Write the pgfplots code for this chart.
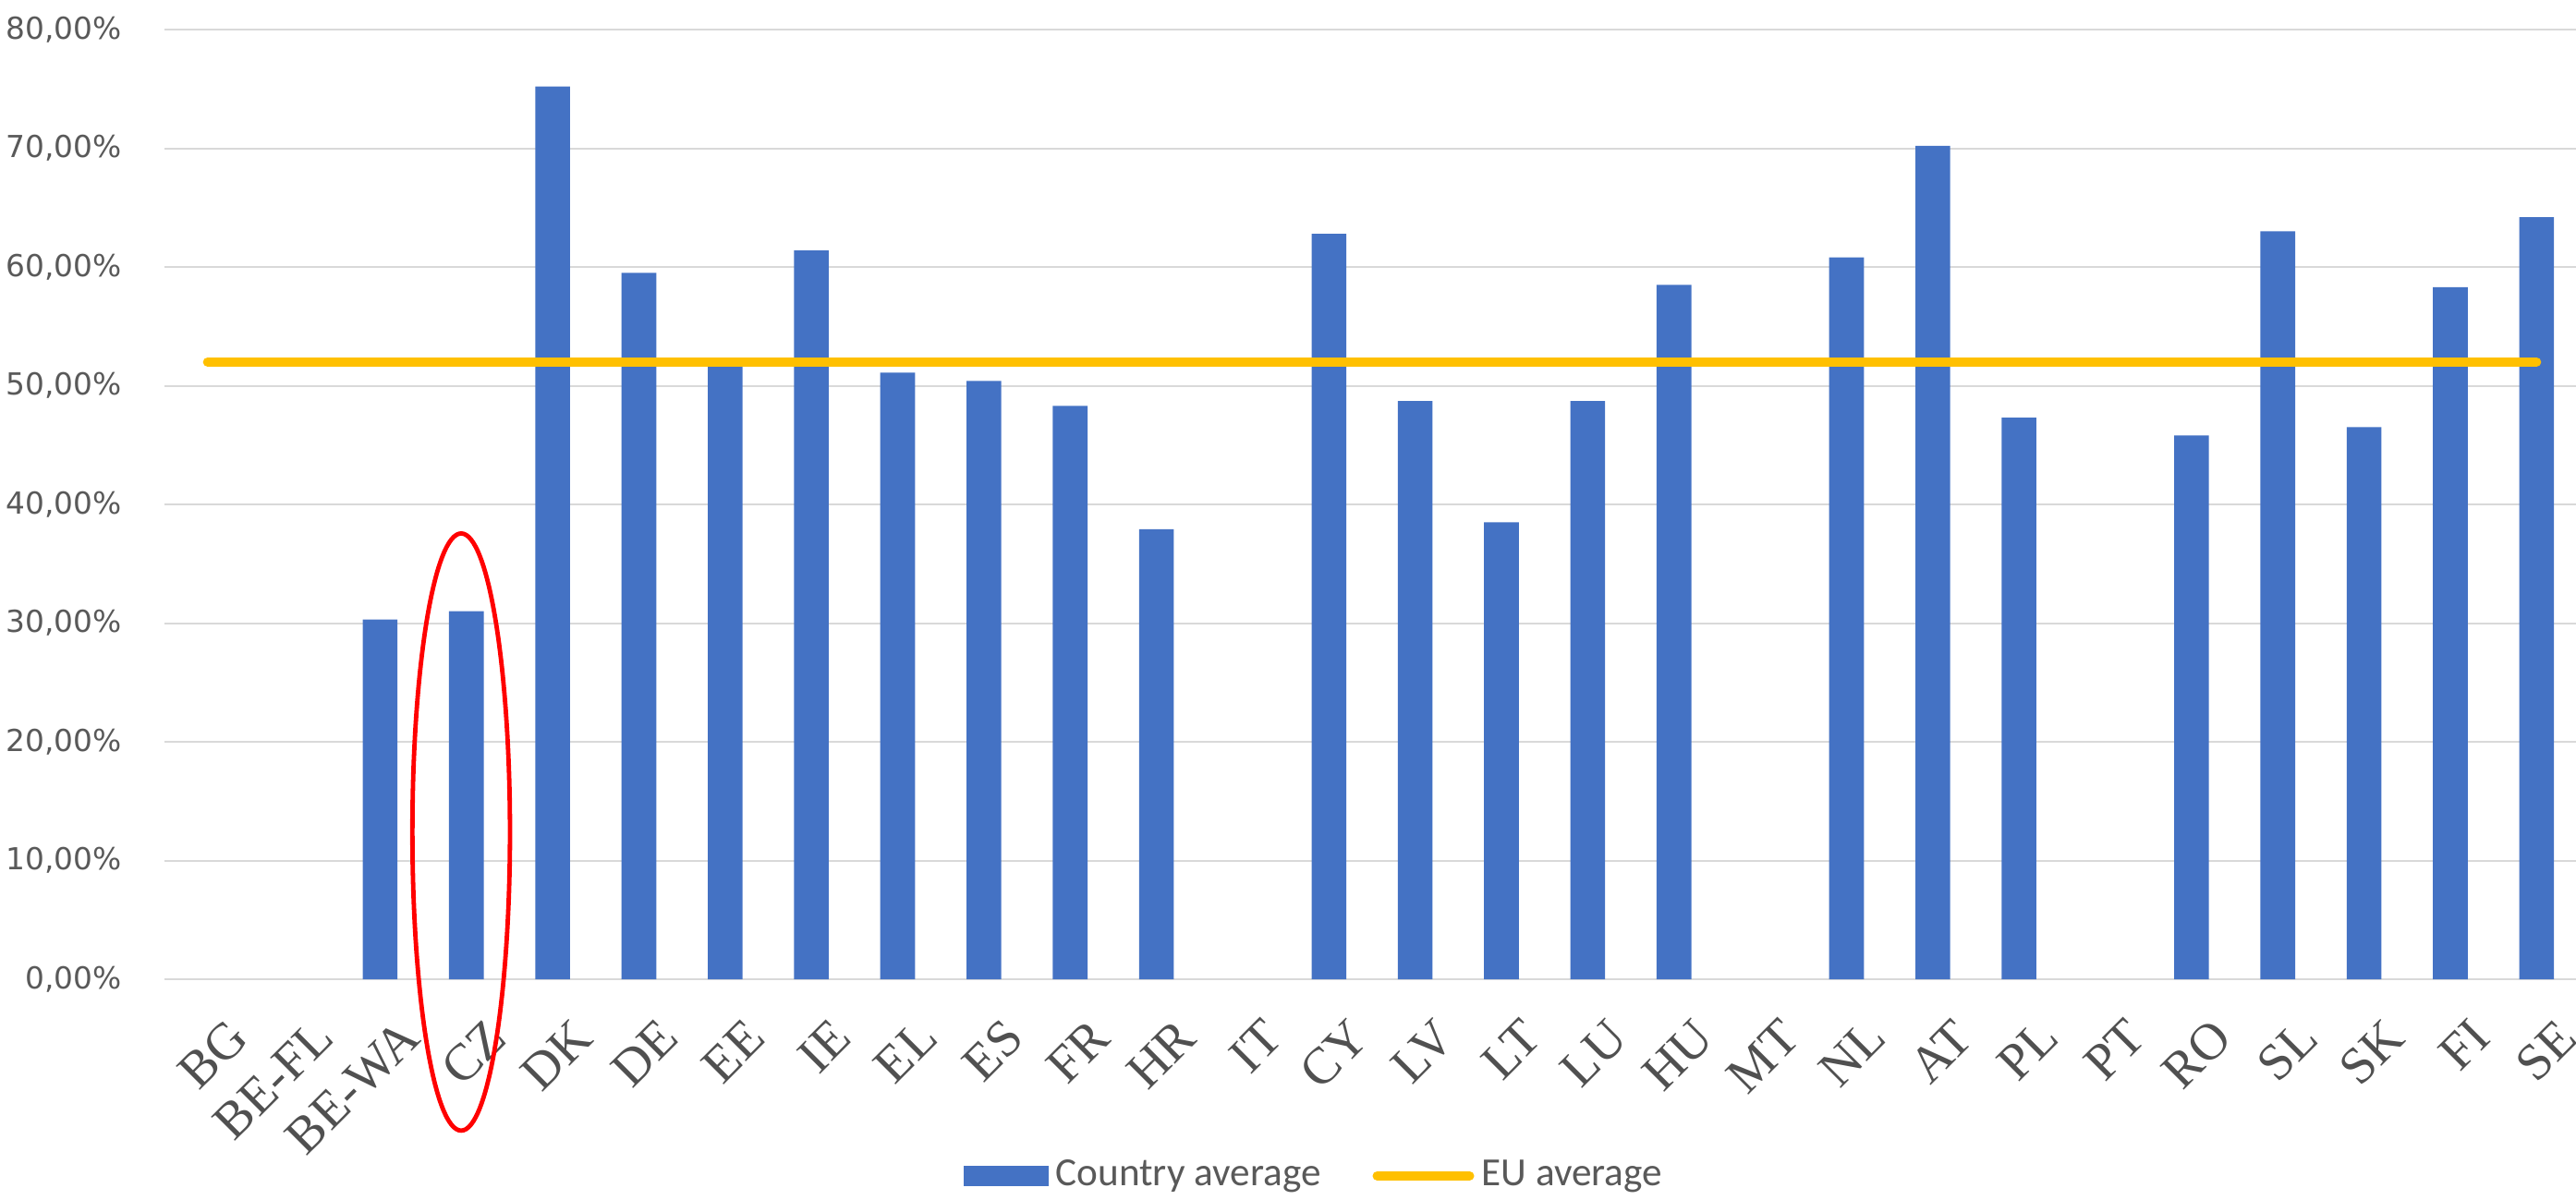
\documentclass[border=0pt]{standalone}
\usepackage{fontspec}
\setmainfont{Liberation Serif}
\newfontfamily\ytickfont{DejaVu Sans}
\newfontfamily\legfont{Carlito}
\usepackage{pgfplots}
\pgfplotsset{compat=1.18}
\definecolor{barblue}{HTML}{4472C4}
\definecolor{eugold}{HTML}{FFC000}
\definecolor{gridgray}{HTML}{D9D9D9}
\definecolor{txtgray}{HTML}{595959}
\begin{document}
\begin{tikzpicture}
\begin{axis}[
  at={(0,0)}, anchor=south west,
  scale only axis, width=653.5pt, height=257pt,
  xmin=-0.5, xmax=27.5, ymin=0, ymax=80,
  xtick={0,...,27},
  xticklabels={BG,BE-FL,BE-WA,CZ,DK,DE,EE,IE,EL,ES,FR,HR,IT,CY,LV,LT,LU,HU,MT,NL,AT,PL,PT,RO,SL,SK,FI,SE},
  ytick={0,10,...,80},
  ymajorgrids, grid style={gridgray, line width=0.5pt},
  axis line style={draw=none},
  major tick length=0pt,
  /pgf/number format/assume math mode=true,
  yticklabel={\pgfmathprintnumber[fixed,fixed zerofill,precision=2,use comma,assume math mode=true]{\tick}\%},
  yticklabel style={font=\fontsize{8.2}{10}\ytickfont, text=txtgray, xshift=-8pt},
  xticklabel style={font=\fontsize{14}{16}\selectfont, text=txtgray!90!black, rotate=45, anchor=north east, inner sep=0pt, xshift=-3.5pt, yshift=-10.5pt},
  legend style={at={(0.477,-0.207)}, anchor=center, draw=none, legend columns=2,
    font=\fontsize{10.8}{12}\legfont, text=txtgray,
    /tikz/every even column/.append style={column sep=12pt}},
  clip=false,
]
% country averages (missing: BG, BE-FL, IT, MT, PT)
\addplot[ybar, bar width=9.4pt, fill=barblue, draw=none,
  legend image code/.code={\fill[barblue] (0pt,-2.8pt) rectangle (23pt,2.8pt);}]
  coordinates {(2,30.3) (3,31.0) (4,75.2) (5,59.5) (6,51.7) (7,61.4) (8,51.1) (9,50.4)
    (10,48.3) (11,37.9) (13,62.8) (14,48.7) (15,38.5) (16,48.7) (17,58.5) (19,60.8)
    (20,70.2) (21,47.3) (23,45.8) (24,63.0) (25,46.5) (26,58.3) (27,64.2)};
\addlegendentry{Country average}
\addplot[eugold, line width=2.5pt, line cap=round,
  legend image code/.code={\draw[eugold, line width=2.5pt, line cap=round] (0pt,0pt) -- (25pt,0pt);}]
  coordinates {(0,52.0) (27,52.0)};
\addlegendentry{EU average}
\draw[red, line width=1.2pt] (axis cs:2.94,12.4) ellipse [x radius=13.2pt, y radius=80.8pt];
\end{axis}
\pgfresetboundingbox
\path[use as bounding box] (-44.5pt,-59.5pt) rectangle (652.5pt,265pt);
\end{tikzpicture}
\end{document}
